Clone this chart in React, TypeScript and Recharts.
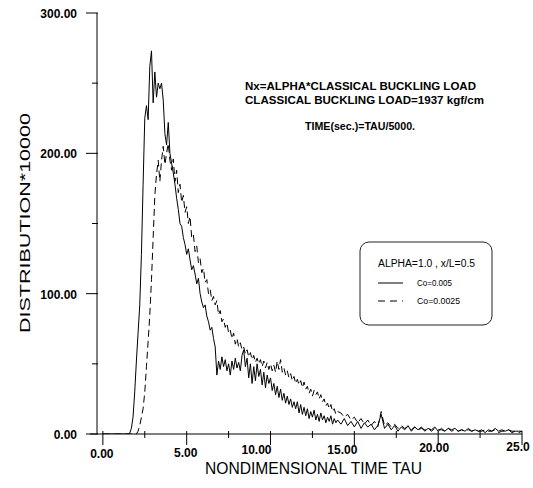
import React from 'react';
import { ComposedChart, Line, XAxis, YAxis } from 'recharts';

// tau grid: fine part 0.0 .. 14.0 (step 0.1), tail 14.2 .. 25.0 (step 0.2)
const FINE_COUNT = 141;
const FINE_STEP = 0.1;
const TAIL_START = 14.2;
const TAIL_STEP = 0.2;

// Co = 0.005 (solid)
const solidFine = [
  0, 0, 0, 0, 0, 0, 0, 0, 0, 0,
  0, 0, 0, 0, 0, 0, 0.5, 4, 12, 30,
  52, 72, 92, 128, 178, 225, 234, 224, 262, 273,
  236, 258, 240, 250, 246, 250, 238, 214, 206, 222,
  200, 193, 186, 178, 168, 160, 150, 148, 140, 135,
  128, 132, 124, 117, 120, 114, 107, 111, 100, 94,
  90, 92, 84, 80, 74, 76, 68, 62, 42, 52,
  46, 55, 48, 53, 45, 50, 42, 52, 46, 54,
  47, 51, 45, 56, 60, 48, 54, 40, 50, 36,
  48, 38, 50, 41, 46, 35, 44, 33, 42, 36,
  40, 31, 36, 28, 34, 26, 32, 24, 29, 22,
  27, 21, 25, 19, 23, 18, 23, 15, 21, 14,
  19, 13, 18, 11, 16, 12, 17, 10, 14, 9,
  15, 10, 13, 8, 12, 9, 13, 7, 11, 8,
  10,
];
const solidTail = [
  7, 11, 6, 9, 5, 9, 4, 8, 5, 7,
  3, 6, 14, 4, 7, 3, 6, 2, 5, 3,
  6, 2, 5, 3, 5, 2, 4, 3, 5, 2,
  4, 2, 4, 3, 4, 2, 3, 2, 4, 2,
  3, 2, 3, 1, 3, 2, 4, 2, 3, 2,
  3, 1, 2, 2, 2,
];

// Co = 0.0025 (dashed)
const dashedFine = [
  0, 0, 0, 0, 0, 0, 0, 0, 0, 0,
  0, 0, 0, 0, 0, 0, 0, 0, 0, 0,
  0, 2, 6, 12, 18, 30, 48, 66, 85, 110,
  140, 170, 185, 195, 180, 195, 205, 192, 200, 207,
  195, 188, 196, 180, 188, 172, 178, 165, 170, 158,
  162, 150, 155, 140, 142, 130, 134, 122, 125, 115,
  118, 108, 110, 100, 103, 95, 98, 92, 95, 85,
  88, 80, 82, 76, 79, 72, 74, 68, 72, 64,
  68, 62, 65, 60, 62, 57, 60, 55, 58, 53,
  56, 51, 54, 50, 53, 48, 52, 47, 51, 46,
  50, 45, 49, 44, 52, 46, 53, 44, 47, 42,
  45, 40, 43, 38, 41, 36, 39, 35, 38, 33,
  37, 32, 34, 29, 32, 27, 31, 28, 30, 25,
  28, 23, 25, 20, 22, 18, 21, 16, 18, 14,
  16,
];
const dashedTail = [
  15, 12, 14, 10, 12, 8, 11, 7, 10, 6,
  9, 5, 16, 6, 8, 5, 7, 4, 6, 4,
  5, 3, 5, 3, 4, 3, 4, 2, 4, 3,
  3, 2, 4, 2, 3, 2, 3, 2, 3, 2,
  3, 2, 2, 3, 2, 2, 3, 1, 2, 2,
  3, 2, 2, 1, 2,
];

const xTicks = [0, 2.5, 5, 7.5, 10, 12.5, 15, 17.5, 20, 22.5, 25];
const xTickLabels: Record<string, string> = {
  '0': '0.00', '5': '5.00', '10': '10.00', '15': '15.00', '20': '20.00', '25': '25.0',
};
const yTicks = [0, 50, 100, 150, 200, 250, 300];
const yTickLabels: Record<string, string> = {
  '0': '0.00', '100': '100.00', '200': '200.00', '300': '300.00',
};

// label placement tweaks (style): horizontal / vertical offsets of x tick labels
const xLabelDx: Record<string, number> = { '0': -1, '5': -1, '10': -14, '15': -12, '20': -4, '25': -4 };
const xLabelDy: Record<string, number> = { '0': 24, '5': 23, '10': 20, '15': 20, '20': 18, '25': 17 };

const data: { tau: number; s: number; d: number }[] = [];
for (let i = 0; i < FINE_COUNT; i++) {
  data.push({ tau: Math.round(i * FINE_STEP * 10) / 10, s: solidFine[i], d: dashedFine[i] });
}
for (let j = 0; j < solidTail.length; j++) {
  data.push({ tau: Math.round((TAIL_START + j * TAIL_STEP) * 10) / 10, s: solidTail[j], d: dashedTail[j] });
}

const FONT = 'Liberation Sans, Arial, Helvetica, sans-serif';

const XTick = (props: any) => {
  const { x, y, payload } = props;
  const key = String(payload.value);
  const lab = xTickLabels[key];
  const major = lab !== undefined;
  return (
    <g>
      <line x1={x} x2={x} y1={y - 3} y2={y + (major ? 11 : 4)} stroke="#000" strokeWidth={1} />
      {major && (
        <text x={x + xLabelDx[key]} y={y + xLabelDy[key]} textAnchor="middle" fontSize={12} fontWeight="bold" fontFamily={FONT} fill="#000">
          {lab}
        </text>
      )}
    </g>
  );
};

const YTick = (props: any) => {
  const { x, y, payload } = props;
  const lab = yTickLabels[String(payload.value)];
  const major = lab !== undefined;
  return (
    <g>
      <line x1={x - (major ? 11 : 5)} x2={x + 1} y1={y} y2={y} stroke="#000" strokeWidth={1} />
      {major && (
        <text x={x - 20} y={y + 5} textAnchor="end" fontSize={12} fontWeight="bold" fontFamily={FONT} fill="#000">
          {lab}
        </text>
      )}
    </g>
  );
};

export default function App() {
  return (
    <div style={{ position: 'absolute', left: 0, top: 0, width: 533, height: 488, background: '#fff' }}>
      <ComposedChart width={533} height={488} data={data} margin={{ top: 13, right: 11, bottom: 0, left: 0 }}>
        <XAxis
          dataKey="tau"
          type="number"
          domain={[-0.35, 25]}
          ticks={xTicks}
          tick={<XTick />}
          tickLine={false}
          tickSize={0}
          tickMargin={0}
          height={54}
          axisLine={{ stroke: '#000', strokeWidth: 1 }}
          interval={0}
          allowDataOverflow
        />
        <YAxis
          type="number"
          domain={[0, 300]}
          ticks={yTicks}
          tick={<YTick />}
          tickLine={false}
          tickSize={0}
          tickMargin={0}
          width={97}
          axisLine={{ stroke: '#000', strokeWidth: 1 }}
          interval={0}
          allowDataOverflow
        />
        <Line dataKey="s" type="linear" stroke="#000" strokeWidth={1} dot={false} isAnimationActive={false} />
        <Line dataKey="d" type="linear" stroke="#000" strokeWidth={1} strokeDasharray="7 4" dot={false} isAnimationActive={false} />
      </ComposedChart>
      <svg width={533} height={488} style={{ position: 'absolute', left: 0, top: 0, pointerEvents: 'none' }}>
        <line x1={90} x2={97} y1={434} y2={434} stroke="#000" strokeWidth={1} />
        <text transform="translate(30,223) rotate(-90)" textAnchor="middle" fontSize={14} fontFamily={FONT} fill="#000" textLength={220} lengthAdjust="spacingAndGlyphs">
          DISTRIBUTION*10000
        </text>
        <text x={205} y={474} fontSize={17} fontFamily={FONT} fill="#000" textLength={217} lengthAdjust="spacingAndGlyphs">
          NONDIMENSIONAL TIME TAU
        </text>
        <text x={245} y={90} fontSize={10} fontWeight="bold" fontFamily={FONT} fill="#000" textLength={231} lengthAdjust="spacingAndGlyphs">
          Nx=ALPHA*CLASSICAL BUCKLING LOAD
        </text>
        <text x={245} y={104} fontSize={10} fontWeight="bold" fontFamily={FONT} fill="#000" textLength={239} lengthAdjust="spacingAndGlyphs">
          CLASSICAL BUCKLING LOAD=1937 kgf/cm
        </text>
        <text x={305} y={130} fontSize={10} fontWeight="bold" fontFamily={FONT} fill="#000" textLength={110} lengthAdjust="spacingAndGlyphs">
          TIME(sec.)=TAU/5000.
        </text>
        <rect x={360} y={242} width={132} height={83} rx={9} ry={9} fill="none" stroke="#222" strokeWidth={1} />
        <text x={378} y={267} fontSize={10} fontFamily={FONT} fill="#000" textLength={97} lengthAdjust="spacingAndGlyphs">
          ALPHA=1.0 , x/L=0.5
        </text>
        <line x1={378} x2={403} y1={283} y2={283} stroke="#000" strokeWidth={1} />
        <text x={417} y={286} fontSize={8.5} fontFamily={FONT} fill="#000" textLength={35} lengthAdjust="spacingAndGlyphs">
          Co=0.005
        </text>
        <line x1={378} x2={403} y1={301} y2={301} stroke="#000" strokeWidth={1} strokeDasharray="7 5" />
        <text x={417} y={304} fontSize={8.5} fontFamily={FONT} fill="#000" textLength={43} lengthAdjust="spacingAndGlyphs">
          Co=0.0025
        </text>
      </svg>
    </div>
  );
}
